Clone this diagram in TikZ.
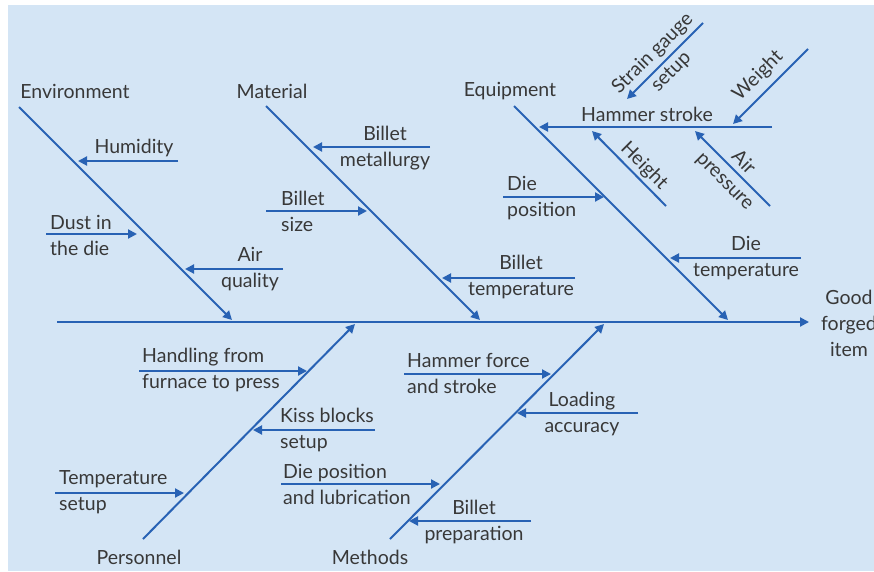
\documentclass[tikz,border=0pt]{standalone}
\usepackage{fontspec}
\setmainfont{Lato}
\usetikzlibrary{arrows.meta}

\definecolor{bonebg}{HTML}{D4E5F5}
\definecolor{boneblue}{HTML}{2862B4}
\definecolor{bonetext}{HTML}{383838}

\begin{document}
\begin{tikzpicture}[x=1pt, y=-1pt, >={Triangle[length=9pt, width=9pt]},
    bone/.style={draw=boneblue, line width=2pt, ->},
    lbl/.style={text=bonetext, font=\fontsize{19.5}{26}\selectfont, inner sep=0pt},
    lleft/.style={lbl, align=left, anchor=west},
    lmid/.style={lbl, align=center}]

    % page and background
    \useasboundingbox (0,0) rectangle (874,571);
    \fill[bonebg] (8,5) rectangle (874,571);

    % Spine and effect
    \coordinate (tail) at (57,322);
    \coordinate (head) at (809,322);
    \draw[bone] (tail) -- (head);
    \node[lmid] (good) at (849,323) {Good\\forged\\item};

    % Main bones, upper row
    \coordinate (envtop) at (19,107);  \coordinate (envend) at (232,320);
    \coordinate (mattop) at (266,106); \coordinate (matend) at (480,320);
    \coordinate (equtop) at (514,106); \coordinate (equend) at (728,320);
    \draw[bone] (envtop) -- (envend);
    \draw[bone] (mattop) -- (matend);
    \draw[bone] (equtop) -- (equend);
    \node[lbl] (env) at (75,91) {Environment};
    \node[lbl] (mat) at (272,91) {Material};
    \node[lbl] (equ) at (510,91) {Equipment};

    % Main bones, lower row
    \coordinate (perbot) at (143,539); \coordinate (perend) at (355,324);
    \coordinate (metbot) at (390,539); \coordinate (metend) at (604,324);
    \draw[bone] (perbot) -- (perend);
    \draw[bone] (metbot) -- (metend);
    \node[lbl] (per) at (139,557) {Personnel};
    \node[lbl] (met) at (370,557) {Methods};

    % Environment causes
    \coordinate (hum1) at (178,161); \coordinate (hum2) at (78,161);
    \draw[bone] (hum1) -- (hum2);
    \node[lbl] (hum) at (134,148) {Humidity};
    \coordinate (dust1) at (46,234); \coordinate (dust2) at (137,234);
    \draw[bone] (dust1) -- (dust2);
    \node[lleft] (dust) at (50,235) {Dust in\\the die};
    \coordinate (airq1) at (283,269); \coordinate (airq2) at (185,269);
    \draw[bone] (airq1) -- (airq2);
    \node[lmid] (airq) at (250,269) {Air\\quality};

    % Material causes
    \coordinate (bmet1) at (430,147); \coordinate (bmet2) at (313,147);
    \draw[bone] (bmet1) -- (bmet2);
    \node[lmid] (bmet) at (385,148) {Billet\\metallurgy};
    \coordinate (bsiz1) at (266,211); \coordinate (bsiz2) at (367,211);
    \draw[bone] (bsiz1) -- (bsiz2);
    \node[lleft] (bsiz) at (281,211) {Billet\\size};
    \coordinate (btem1) at (575,278); \coordinate (btem2) at (442,278);
    \draw[bone] (btem1) -- (btem2);
    \node[lmid] (btem) at (521,277) {Billet\\temperature};

    % Equipment causes
    \coordinate (hstr1) at (772,127); \coordinate (hstr2) at (539,127);
    \draw[bone] (hstr1) -- (hstr2);
    \node[lbl] (hstr) at (647,114) {Hammer stroke};
    \coordinate (sgs1) at (703,23);  \coordinate (sgs2) at (627,99);
    \draw[bone] (sgs1) -- (sgs2);
    \node[lmid, rotate=45] (sgs) at (662,63) {Strain gauge\\setup};
    \coordinate (wgt1) at (808,49);  \coordinate (wgt2) at (733,124);
    \draw[bone] (wgt1) -- (wgt2);
    \node[lbl, rotate=45] (wgt) at (758,76) {Weight};
    \coordinate (hgt1) at (666,206); \coordinate (hgt2) at (592,131);
    \draw[bone] (hgt1) -- (hgt2);
    \node[lbl, rotate=-45] (hgt) at (644,166) {Height};
    \coordinate (airp1) at (770,206); \coordinate (airp2) at (695,131);
    \draw[bone] (airp1) -- (airp2);
    \node[lmid, rotate=-45] (airp) at (734,172) {Air\\pressure};
    \coordinate (dpos1) at (503,197); \coordinate (dpos2) at (604,197);
    \draw[bone] (dpos1) -- (dpos2);
    \node[lleft] (dpos) at (507,198) {Die\\position};
    \coordinate (dtem1) at (801,258); \coordinate (dtem2) at (670,258);
    \draw[bone] (dtem1) -- (dtem2);
    \node[lmid] (dtem) at (746,258) {Die\\temperature};

    % Personnel causes
    \coordinate (hand1) at (139,371); \coordinate (hand2) at (307,371);
    \draw[bone] (hand1) -- (hand2);
    \node[lleft] (hand) at (142,370) {Handling from\\furnace to press};
    \coordinate (kiss1) at (375,430); \coordinate (kiss2) at (253,430);
    \draw[bone] (kiss1) -- (kiss2);
    \node[lleft] (kiss) at (280,430) {Kiss blocks\\setup};
    \coordinate (tset1) at (55,493);  \coordinate (tset2) at (184,493);
    \draw[bone] (tset1) -- (tset2);
    \node[lleft] (tset) at (59,492) {Temperature\\setup};

    % Methods causes
    \coordinate (hfor1) at (404,374); \coordinate (hfor2) at (551,374);
    \draw[bone] (hfor1) -- (hfor2);
    \node[lleft] (hfor) at (407,373) {Hammer force\\and stroke};
    \coordinate (load1) at (638,413); \coordinate (load2) at (517,413);
    \draw[bone] (load1) -- (load2);
    \node[lmid] (load) at (582,414) {Loading\\accuracy};
    \coordinate (dlub1) at (281,484); \coordinate (dlub2) at (440,484);
    \draw[bone] (dlub1) -- (dlub2);
    \node[lleft] (dlub) at (283,484) {Die position\\and lubrication};
    \coordinate (bpre1) at (531,521); \coordinate (bpre2) at (409,521);
    \draw[bone] (bpre1) -- (bpre2);
    \node[lmid] (bpre) at (474,522) {Billet\\preparation};

\end{tikzpicture}
\end{document}
